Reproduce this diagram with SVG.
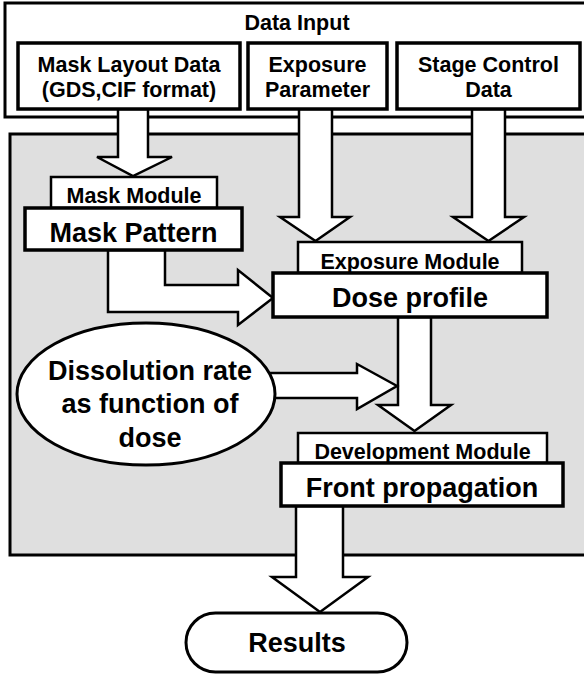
<svg xmlns="http://www.w3.org/2000/svg" width="584" height="677" viewBox="0 0 584 677">
<style>
text{font-family:"Liberation Sans",Arial,sans-serif;font-weight:bold;fill:#000;text-anchor:middle}
.box{fill:#fff;stroke:#000;stroke-width:3.5}
.mod{fill:#fff;stroke:#000;stroke-width:2.5}
.arr{fill:#fff;stroke:#000;stroke-width:2.5;stroke-linejoin:miter}
.t22{font-size:21.5px}
.t27{font-size:27px}
</style>
<rect width="584" height="677" fill="#fff"/>
<g id="data-input">
<rect x="5" y="3" width="600" height="114" fill="#fff" stroke="#000" stroke-width="3"/>
<text class="t22" x="297" y="30">Data Input</text>
</g>
<g id="simulator">
<rect x="10" y="134" width="600" height="421" fill="#dfdfdf" stroke="#000" stroke-width="3"/>
</g>
<g id="connectors">
<polygon class="arr" points="118,109 148,109 148,157 172,157 133,176 97,157 118,157"/>
<polygon class="arr" points="299,109 332,109 332,217 350,217 315.5,241 280,217 299,217"/>
<polygon class="arr" points="472,109 505,109 505,217 524,217 488.5,241 453,217 472,217"/>
<polygon class="arr" points="108,250 108,312 238,312 238,325 273,298 238,270 238,285 165,285 165,250"/>
<polygon class="arr" points="398,317 431,317 431,405 451,405 414.5,431 378,405 398,405"/>
<polygon class="arr" points="250,373 357,373 357,364 397,386 357,409 357,398 250,398"/>
<polygon class="arr" points="296,506 343,506 343,577 368,577 320,612 272,577 296,577"/>
</g>
<g id="mask-layout">
<rect class="box" x="18" y="43" width="222" height="66"/>
<text class="t22" x="129" y="72">Mask Layout Data</text>
<text class="t22" x="129" y="97">(GDS,CIF format)</text>
</g>
<g id="exposure-parameter">
<rect class="box" x="248" y="43" width="139" height="66"/>
<text class="t22" x="317.5" y="72">Exposure</text>
<text class="t22" x="317.5" y="97">Parameter</text>
</g>
<g id="stage-control">
<rect class="box" x="397" y="43" width="183" height="66"/>
<text class="t22" x="488.5" y="72">Stage Control</text>
<text class="t22" x="488.5" y="97">Data</text>
</g>
<g id="mask-module">
<rect class="mod" x="51" y="177" width="166" height="31"/>
<text class="t22" x="134" y="203">Mask Module</text>
<rect class="box" x="25" y="208" width="217" height="42"/>
<text class="t27" x="133.5" y="241.5">Mask Pattern</text>
</g>
<g id="exposure-module">
<rect class="mod" x="298" y="242" width="224" height="31"/>
<text class="t22" x="410" y="269">Exposure Module</text>
<rect class="box" x="273" y="273" width="274" height="44"/>
<text class="t27" x="410" y="306.5">Dose profile</text>
</g>
<g id="dissolution-rate">
<ellipse cx="146" cy="394" rx="129" ry="71" fill="#fff" stroke="#000" stroke-width="3"/>
<text class="t27" x="150" y="380">Dissolution rate</text>
<text class="t27" x="150" y="413">as function of</text>
<text class="t27" x="150" y="446.5">dose</text>
</g>
<g id="development-module">
<rect class="mod" x="298" y="433" width="249" height="30"/>
<text class="t22" x="422.5" y="459">Development Module</text>
<rect class="box" x="281" y="463" width="282" height="43"/>
<text class="t27" x="422" y="496.5">Front propagation</text>
</g>
<g id="results">
<rect x="186" y="613" width="221" height="59" rx="29.5" ry="29.5" fill="#fff" stroke="#000" stroke-width="3"/>
<text class="t27" x="297" y="651.5">Results</text>
</g>
</svg>
